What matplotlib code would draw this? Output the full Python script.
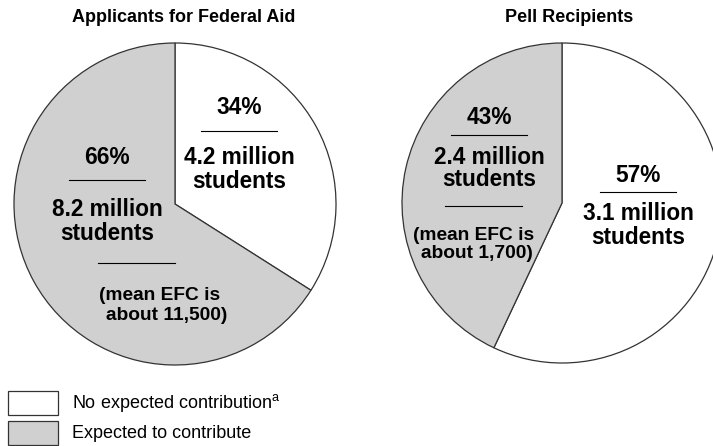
import matplotlib
matplotlib.use('Agg')
import matplotlib.pyplot as plt
from matplotlib.patches import Rectangle

plt.rcParams['font.family'] = ['Liberation Sans', 'DejaVu Sans']

W, H = 713, 446

# data
titles = ['Applicants for Federal Aid', 'Pell Recipients']
categories = ['No expected contribution', 'Expected to contribute']
aid_shares = [34, 66]          # no contribution, expected to contribute
aid_students = [4.2, 8.2]      # million
aid_mean_efc = '11,500'
pell_shares = [57, 43]
pell_students = [3.1, 2.4]
pell_mean_efc = '1,700'

WHITE = '#ffffff'
GRAY = '#d0d0d0'
EDGE = '#333333'
BIG = 16.3
SMALL = 13.8


def py(y):
    # pixel row (from top) to data y
    return H - y


def label_block(ax, x, y_pct, line_pct, y_mil, y_stu, pct, mil, line_w=38):
    ax.text(x, py(y_pct), f'{pct}%', ha='center', va='center',
            fontsize=BIG, fontweight='bold')
    ax.plot([x - line_w, x + line_w], [py(line_pct), py(line_pct)],
            color='black', lw=0.8)
    ax.text(x, py(y_mil), f'{mil} million', ha='center', va='center',
            fontsize=BIG, fontweight='bold')
    ax.text(x, py(y_stu), 'students', ha='center', va='center',
            fontsize=BIG, fontweight='bold')


fig = plt.figure(figsize=(W / 100, H / 100), dpi=100)
ax = fig.add_axes([0, 0, 1, 1])

# left pie: applicants
ax.pie(aid_shares, colors=[WHITE, GRAY], startangle=90, counterclock=False,
       center=(175, py(204)), radius=161,
       wedgeprops=dict(edgecolor=EDGE, linewidth=0.9))
# right pie: pell recipients
ax.pie(pell_shares, colors=[WHITE, GRAY], startangle=90, counterclock=False,
       center=(562, py(203)), radius=160,
       wedgeprops=dict(edgecolor=EDGE, linewidth=0.9))

ax.set_xlim(0, W)
ax.set_ylim(0, H)
ax.axis('off')

ax.text(184, py(17), titles[0], ha='center', va='center',
        fontsize=13, fontweight='bold')
ax.text(569, py(17), titles[1], ha='center', va='center',
        fontsize=13, fontweight='bold')

# left pie labels
label_block(ax, 239, 107, 131, 158, 182, aid_shares[0], aid_students[0])
label_block(ax, 107, 157, 180, 210, 233, aid_shares[1], aid_students[1])
ax.plot([98, 175], [py(263), py(263)], color='black', lw=0.8)
ax.text(160, py(296), '(mean EFC is', ha='center', va='center',
        fontsize=SMALL, fontweight='bold')
ax.text(167, py(315), f'about {aid_mean_efc})', ha='center', va='center',
        fontsize=SMALL, fontweight='bold')

# right pie labels
label_block(ax, 638, 175, 192, 213, 237, pell_shares[0], pell_students[0])
label_block(ax, 489, 118, 135, 157, 180, pell_shares[1], pell_students[1])
ax.plot([445, 522], [py(206), py(206)], color='black', lw=0.8)
ax.text(474, py(235), '(mean EFC is', ha='center', va='center',
        fontsize=SMALL, fontweight='bold')
ax.text(477, py(253), f'about {pell_mean_efc})', ha='center', va='center',
        fontsize=SMALL, fontweight='bold')

# legend
for i, (cat, col) in enumerate(zip(categories, [WHITE, GRAY])):
    top = 391 + i * 30
    ax.add_patch(Rectangle((8, py(top + 24)), 50, 24, facecolor=col,
                           edgecolor=EDGE, lw=0.9))
    txt = cat + (r'$^{\mathregular{a}}$' if i == 0 else '')
    ax.text(72, py(top + 12), txt, ha='left', va='center', fontsize=13)

fig.savefig('out.png', dpi=100)
